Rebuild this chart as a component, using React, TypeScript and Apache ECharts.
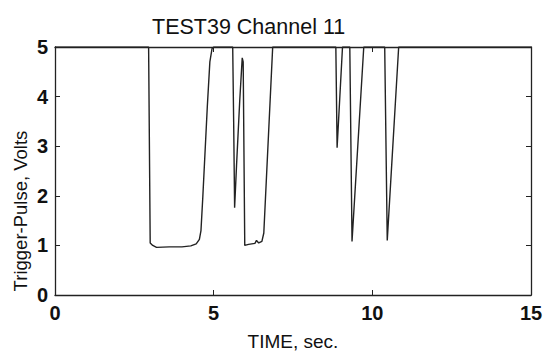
import React, { useEffect, useRef } from "react";
import * as echarts from "echarts";

const titleText = "TEST39 Channel 11";
const xAxisName = "TIME, sec.";
const yAxisName = "Trigger-Pulse, Volts";

const timeSec = [
  0, 2.95, 3.0, 3.08, 3.2, 3.6, 4.0, 4.28, 4.45, 4.55, 4.6, 4.66, 4.8, 4.88, 4.95, 5.0,
  5.6, 5.63, 5.66, 5.72, 5.82, 5.9, 5.93, 5.98, 6.1, 6.3, 6.35, 6.42, 6.52, 6.58, 6.86,
  8.85, 8.89, 9.06, 9.29, 9.36, 9.73, 10.39, 10.47, 10.83, 15,
];
const volts = [
  5, 5, 1.05, 1.0, 0.96, 0.97, 0.97, 0.99, 1.03, 1.12, 1.3, 2.0, 3.8, 4.7, 4.97, 5,
  5, 3.5, 1.76, 2.6, 3.9, 4.78, 4.7, 1.0, 1.02, 1.04, 1.1, 1.05, 1.08, 1.25, 5,
  5, 2.97, 5, 5, 1.08, 5, 5, 1.1, 5, 5,
];

const FONT = "Liberation Sans, Arial, sans-serif";

export default function App() {
  const ref = useRef<HTMLDivElement>(null);
  useEffect(() => {
    if (!ref.current) return;
    const chart = echarts.init(ref.current, undefined, { renderer: "svg" });
    const data = timeSec.map((t, i) => [t, volts[i]]);
    const tickStyle = { show: true, inside: true, length: 5, lineStyle: { color: "#222", width: 1 } };
    const lineStyle = { color: "#222", width: 1.3 };
    chart.setOption({
      animation: false,
      backgroundColor: "#fff",
      title: {
        text: titleText,
        left: 147,
        top: 11,
        textStyle: { fontFamily: FONT, fontSize: 21.5, fontWeight: "normal", color: "#111" },
      },
      grid: { left: 55, right: 18, top: 47, bottom: 60 },
      xAxis: [
        {
          type: "value",
          min: 0,
          max: 15,
          interval: 5,
          name: xAxisName,
          nameLocation: "middle",
          nameGap: 37,
          nameTextStyle: { fontFamily: FONT, fontSize: 19, color: "#111" },
          axisLine: { show: true, onZero: false, lineStyle },
          axisTick: tickStyle,
          axisLabel: { fontFamily: FONT, fontSize: 20, fontWeight: "bold", color: "#111", margin: 8 },
          splitLine: { show: false },
        },
        {
          type: "value",
          position: "top",
          min: 0,
          max: 15,
          interval: 5,
          axisLine: { show: true, onZero: false, lineStyle },
          axisTick: tickStyle,
          axisLabel: { show: false },
          splitLine: { show: false },
        },
      ],
      yAxis: [
        {
          type: "value",
          min: 0,
          max: 5,
          interval: 1,
          axisLine: { show: true, onZero: false, lineStyle },
          axisTick: tickStyle,
          axisLabel: {
            fontFamily: FONT,
            fontSize: 20,
            fontWeight: "bold",
            color: "#111",
            margin: 7,
            padding: [5, 0, 0, 0],
          },
          splitLine: { show: false },
        },
        {
          type: "value",
          position: "right",
          min: 0,
          max: 5,
          interval: 1,
          axisLine: { show: true, onZero: false, lineStyle },
          axisTick: tickStyle,
          axisLabel: { show: false },
          splitLine: { show: false },
        },
      ],
      graphic: [
        {
          type: "text",
          x: 20,
          y: 211,
          rotation: Math.PI / 2,
          style: {
            text: yAxisName,
            fontFamily: FONT,
            fontSize: 18.5,
            fill: "#111",
            align: "center",
            verticalAlign: "middle",
          },
        },
      ],
      series: [
        {
          type: "line",
          data,
          xAxisIndex: 0,
          yAxisIndex: 0,
          showSymbol: false,
          symbol: "none",
          lineStyle: { color: "#222", width: 1.4 },
        },
      ],
    });
    return () => chart.dispose();
  }, []);
  return (
    <div
      ref={ref}
      style={{ position: "fixed", left: 0, top: 0, width: 549, height: 356 }}
    />
  );
}
